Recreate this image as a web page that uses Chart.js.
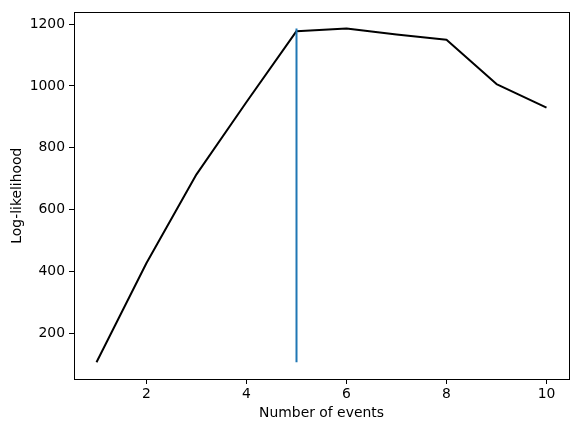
<!DOCTYPE html>
<html>
<head>
<meta charset="utf-8">
<script src="https://cdn.jsdelivr.net/npm/chart.js@4/dist/chart.umd.min.js"></script>
<style>
  html, body { margin: 0; padding: 0; background: #fff; }
  #wrap { width: 580px; height: 432px; }
</style>
</head>
<body>
<div id="wrap"><canvas id="c" width="580" height="432"></canvas></div>
<script>
const numEvents = [1, 2, 3, 4, 5, 6, 7, 8, 9, 10];
const logLik = [106, 427, 714, 948, 1177, 1186, 1166, 1149, 1006, 930];
const bestK = 5;
const bestLineY = [106, 1186];
const xTicks = [2, 4, 6, 8, 10];
const yTicks = [200, 400, 600, 800, 1000, 1200];
const xLabel = 'Number of events';
const yLabel = 'Log-likelihood';

Chart.defaults.font.family = '"DejaVu Sans", sans-serif';
Chart.defaults.font.size = 13.9;
Chart.defaults.color = '#000';

const frame = {
  id: 'frame',
  afterDraw(chart) {
    const { ctx, chartArea: a } = chart;
    ctx.save();
    ctx.strokeStyle = '#000';
    ctx.lineWidth = 1;
    ctx.strokeRect(Math.round(a.left) + 0.5, Math.round(a.top) + 0.5,
      Math.round(a.right - a.left), Math.round(a.bottom - a.top));
    ctx.restore();
  }
};

new Chart(document.getElementById('c'), {
  type: 'line',
  data: {
    datasets: [
      {
        data: bestLineY.map(y => ({ x: bestK, y })),
        borderColor: '#1f77b4',
        borderWidth: 2,
        pointRadius: 0,
        fill: false
      },
      {
        data: numEvents.map((x, i) => ({ x, y: logLik[i] })),
        borderColor: '#000',
        borderWidth: 2,
        borderJoinStyle: 'round',
        pointRadius: 0,
        fill: false,
        tension: 0
      }
    ]
  },
  options: {
    responsive: false,
    animation: false,
    events: [],
    layout: { padding: { top: 9, right: 11, left: 0, bottom: 0 } },
    plugins: { legend: { display: false }, tooltip: { enabled: false } },
    scales: {
      x: {
        type: 'linear',
        min: 0.55,
        max: 10.45,
        afterBuildTicks: s => { s.ticks = xTicks.map(v => ({ value: v })); },
        afterFit: s => { s.height = 53; },
        border: { display: false },
        grid: { display: true, drawOnChartArea: false, drawTicks: true, tickLength: 5, tickWidth: 1, tickColor: '#000' },
        ticks: { padding: 2, maxRotation: 0, autoSkip: false, callback: v => String(v) },
        title: { display: true, text: xLabel, padding: { top: 0, bottom: 10.7 } }
      },
      y: {
        type: 'linear',
        min: 52,
        max: 1238,
        afterBuildTicks: s => { s.ticks = yTicks.map(v => ({ value: v })); },
        afterFit: s => { s.width = 74; },
        border: { display: false },
        grid: { display: true, drawOnChartArea: false, drawTicks: true, tickLength: 5, tickWidth: 1, tickColor: '#000' },
        ticks: { padding: 4, autoSkip: false, callback: v => String(v) },
        title: { display: true, text: yLabel, padding: { top: 8.7, bottom: 0 } }
      }
    }
  },
  plugins: [frame]
});
</script>
</body>
</html>
